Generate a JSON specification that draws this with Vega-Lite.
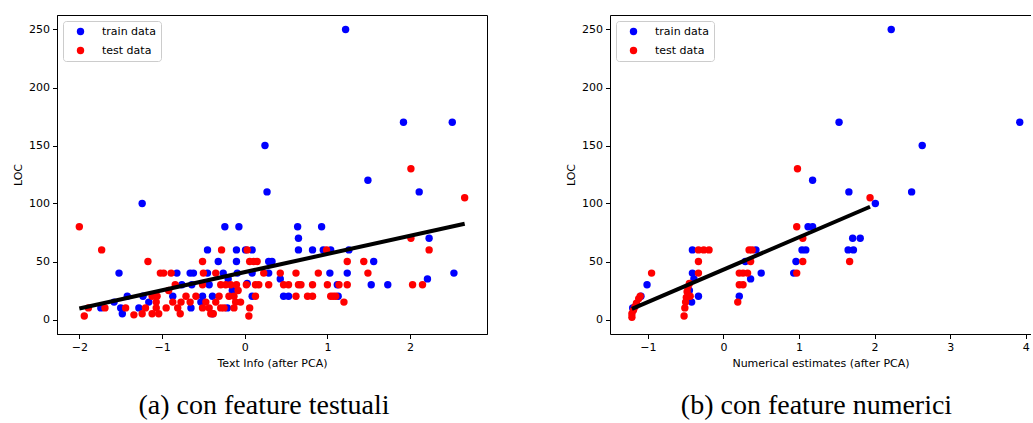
{
  "$schema": "https://vega.github.io/schema/vega-lite/v6.json",
  "background": "white",
  "padding": {"left": 12, "top": 14, "right": 0, "bottom": 0},
  "config": {
    "view": {"stroke": "black", "strokeWidth": 1},
    "axis": {"labelFont": "DejaVu Sans", "labelFontSize": 11, "labelColor": "black", "titleFont": "DejaVu Sans", "titleFontSize": 11, "titleFontWeight": "normal", "titleColor": "black", "tickColor": "black", "tickSize": 4.5, "domainColor": "black", "grid": false, "labelPadding": 3, "titlePadding": 5, "labelFlush": false, "labelOverlap": false, "format": "d"},
    "legend": {"orient": "top-left", "offset": 6, "padding": 5, "strokeColor": "#cccccc", "fillColor": "rgba(255,255,255,0.8)", "cornerRadius": 3, "symbolSize": 55, "symbolType": "circle", "symbolStrokeWidth": 0, "labelFont": "DejaVu Sans", "labelFontSize": 11, "labelColor": "black", "symbolOffset": 7, "labelOffset": 16, "rowPadding": 7},
    "title": {"font": "Liberation Serif", "fontSize": 28, "fontWeight": "normal", "color": "black", "orient": "bottom", "anchor": "middle", "frame": "group", "offset": 23, "dx": -8}
  },
  "datasets": {
    "left": [
      {"x": 1.22, "y": 250, "s": "train data"}, {"x": 1.92, "y": 170, "s": "train data"}, {"x": 2.51, "y": 170, "s": "train data"}, {"x": 0.245, "y": 150, "s": "train data"}, {"x": 1.49, "y": 120, "s": "train data"}, {"x": 0.27, "y": 110, "s": "train data"}, {"x": 2.11, "y": 110, "s": "train data"}, {"x": -1.24, "y": 100, "s": "train data"},
      {"x": -0.24, "y": 80, "s": "train data"}, {"x": -0.07, "y": 80, "s": "train data"}, {"x": 0.64, "y": 80, "s": "train data"}, {"x": 0.93, "y": 80, "s": "train data"},
      {"x": 0.65, "y": 70, "s": "train data"}, {"x": 2.23, "y": 70, "s": "train data"},
      {"x": -0.45, "y": 60, "s": "train data"}, {"x": -0.10, "y": 60, "s": "train data"}, {"x": 0.01, "y": 60, "s": "train data"}, {"x": 0.09, "y": 60, "s": "train data"}, {"x": 0.65, "y": 60, "s": "train data"}, {"x": 0.82, "y": 60, "s": "train data"}, {"x": 0.95, "y": 60, "s": "train data"}, {"x": 1.04, "y": 60, "s": "train data"}, {"x": 1.26, "y": 60, "s": "train data"},
      {"x": -0.32, "y": 50, "s": "train data"}, {"x": -0.10, "y": 50, "s": "train data"}, {"x": 0.29, "y": 50, "s": "train data"}, {"x": 0.33, "y": 50, "s": "train data"}, {"x": 1.56, "y": 50, "s": "train data"},
      {"x": -1.52, "y": 40, "s": "train data"}, {"x": -0.82, "y": 40, "s": "train data"}, {"x": -0.66, "y": 40, "s": "train data"}, {"x": -0.62, "y": 40, "s": "train data"}, {"x": -0.45, "y": 40, "s": "train data"}, {"x": -0.26, "y": 40, "s": "train data"}, {"x": -0.09, "y": 40, "s": "train data"}, {"x": 0.09, "y": 40, "s": "train data"}, {"x": 0.29, "y": 40, "s": "train data"}, {"x": 1.03, "y": 40, "s": "train data"}, {"x": 1.24, "y": 40, "s": "train data"}, {"x": 2.53, "y": 40, "s": "train data"},
      {"x": 0.43, "y": 35, "s": "train data"}, {"x": 2.21, "y": 35, "s": "train data"}, {"x": -0.20, "y": 35, "s": "train data"},
      {"x": -0.76, "y": 30, "s": "train data"}, {"x": -0.64, "y": 30, "s": "train data"}, {"x": -0.43, "y": 30, "s": "train data"}, {"x": 0.03, "y": 31, "s": "train data"}, {"x": 1.12, "y": 30, "s": "train data"}, {"x": 1.53, "y": 30, "s": "train data"}, {"x": 1.73, "y": 30, "s": "train data"},
      {"x": -0.15, "y": 25, "s": "train data"},
      {"x": -1.42, "y": 20, "s": "train data"}, {"x": -1.23, "y": 20, "s": "train data"}, {"x": -0.87, "y": 20, "s": "train data"}, {"x": -0.51, "y": 20, "s": "train data"}, {"x": -0.39, "y": 20, "s": "train data"}, {"x": 0.09, "y": 20, "s": "train data"}, {"x": 0.47, "y": 20, "s": "train data"}, {"x": 0.53, "y": 20, "s": "train data"}, {"x": 1.13, "y": 20, "s": "train data"},
      {"x": -1.58, "y": 15, "s": "train data"}, {"x": -1.16, "y": 15, "s": "train data"}, {"x": -0.53, "y": 15, "s": "train data"},
      {"x": -1.74, "y": 10, "s": "train data"}, {"x": -1.50, "y": 10, "s": "train data"}, {"x": -1.28, "y": 10, "s": "train data"}, {"x": -0.65, "y": 10, "s": "train data"}, {"x": -0.21, "y": 10, "s": "train data"},
      {"x": -1.48, "y": 5, "s": "train data"}, {"x": -0.39, "y": 5, "s": "train data"},
      {"x": 2.01, "y": 130, "s": "test data"}, {"x": 2.66, "y": 105, "s": "test data"}, {"x": -2.0, "y": 80, "s": "test data"}, {"x": 2.01, "y": 70, "s": "test data"},
      {"x": -1.73, "y": 60, "s": "test data"}, {"x": -0.28, "y": 60, "s": "test data"}, {"x": 0.03, "y": 60, "s": "test data"}, {"x": 0.99, "y": 60, "s": "test data"}, {"x": 2.23, "y": 60, "s": "test data"},
      {"x": -1.17, "y": 50, "s": "test data"}, {"x": -0.51, "y": 50, "s": "test data"}, {"x": 0.06, "y": 50, "s": "test data"}, {"x": 0.11, "y": 50, "s": "test data"}, {"x": 0.15, "y": 50, "s": "test data"}, {"x": 1.24, "y": 50, "s": "test data"}, {"x": 1.44, "y": 50, "s": "test data"},
      {"x": -1.02, "y": 40, "s": "test data"}, {"x": -0.98, "y": 40, "s": "test data"}, {"x": -0.89, "y": 40, "s": "test data"}, {"x": -0.50, "y": 40, "s": "test data"}, {"x": -0.35, "y": 40, "s": "test data"}, {"x": 0.23, "y": 40, "s": "test data"}, {"x": 0.43, "y": 40, "s": "test data"}, {"x": 0.62, "y": 40, "s": "test data"}, {"x": 0.89, "y": 40, "s": "test data"}, {"x": 1.49, "y": 40, "s": "test data"},
      {"x": -0.84, "y": 30, "s": "test data"}, {"x": -0.51, "y": 30, "s": "test data"}, {"x": -0.29, "y": 30, "s": "test data"}, {"x": -0.23, "y": 30, "s": "test data"}, {"x": -0.17, "y": 30, "s": "test data"}, {"x": -0.10, "y": 30, "s": "test data"}, {"x": 0.02, "y": 30, "s": "test data"}, {"x": 0.13, "y": 30, "s": "test data"}, {"x": 0.17, "y": 30, "s": "test data"}, {"x": 0.29, "y": 30, "s": "test data"}, {"x": 0.47, "y": 30, "s": "test data"}, {"x": 0.53, "y": 30, "s": "test data"}, {"x": 0.65, "y": 30, "s": "test data"}, {"x": 0.68, "y": 30, "s": "test data"}, {"x": 0.82, "y": 30, "s": "test data"}, {"x": 1.0, "y": 30, "s": "test data"}, {"x": 1.14, "y": 30, "s": "test data"}, {"x": 1.24, "y": 30, "s": "test data"}, {"x": 2.03, "y": 30, "s": "test data"}, {"x": 2.15, "y": 30, "s": "test data"},
      {"x": -0.92, "y": 25, "s": "test data"}, {"x": -0.08, "y": 25, "s": "test data"},
      {"x": -1.12, "y": 20, "s": "test data"}, {"x": -1.06, "y": 20, "s": "test data"}, {"x": -0.71, "y": 20, "s": "test data"}, {"x": -0.59, "y": 20, "s": "test data"}, {"x": -0.31, "y": 20, "s": "test data"}, {"x": -0.19, "y": 20, "s": "test data"}, {"x": -0.13, "y": 20, "s": "test data"}, {"x": 0.13, "y": 20, "s": "test data"}, {"x": 0.62, "y": 20, "s": "test data"}, {"x": 0.76, "y": 20, "s": "test data"}, {"x": 0.82, "y": 20, "s": "test data"}, {"x": 1.04, "y": 20, "s": "test data"}, {"x": 1.07, "y": 20, "s": "test data"}, {"x": 1.10, "y": 20, "s": "test data"},
      {"x": -1.07, "y": 15, "s": "test data"}, {"x": -0.87, "y": 15, "s": "test data"}, {"x": -0.77, "y": 15, "s": "test data"}, {"x": -0.66, "y": 15, "s": "test data"}, {"x": -0.47, "y": 15, "s": "test data"}, {"x": -0.35, "y": 15, "s": "test data"}, {"x": -0.11, "y": 15, "s": "test data"}, {"x": -0.05, "y": 15, "s": "test data"}, {"x": 1.20, "y": 15, "s": "test data"},
      {"x": -1.89, "y": 10, "s": "test data"}, {"x": -1.69, "y": 10, "s": "test data"}, {"x": -1.44, "y": 10, "s": "test data"}, {"x": -1.20, "y": 10, "s": "test data"}, {"x": -1.07, "y": 10, "s": "test data"}, {"x": -0.95, "y": 10, "s": "test data"}, {"x": -0.81, "y": 10, "s": "test data"}, {"x": -0.51, "y": 10, "s": "test data"}, {"x": -0.43, "y": 10, "s": "test data"}, {"x": -0.29, "y": 10, "s": "test data"}, {"x": -0.25, "y": 10, "s": "test data"}, {"x": -0.13, "y": 10, "s": "test data"}, {"x": 0.06, "y": 10, "s": "test data"},
      {"x": -1.34, "y": 4, "s": "test data"}, {"x": -1.24, "y": 5, "s": "test data"}, {"x": -1.12, "y": 5, "s": "test data"}, {"x": -1.04, "y": 5, "s": "test data"}, {"x": -0.78, "y": 5, "s": "test data"}, {"x": -0.41, "y": 5, "s": "test data"}, {"x": -0.38, "y": 5, "s": "test data"},
      {"x": -1.94, "y": 3, "s": "test data"}, {"x": 0.05, "y": 3, "s": "test data"}
    ],
    "leftLine": [{"x": -2.0, "y": 9.5}, {"x": 2.66, "y": 82.5}],
    "right": [
      {"x": 2.22, "y": 250, "s": "train data"}, {"x": 1.53, "y": 170, "s": "train data"}, {"x": 3.92, "y": 170, "s": "train data"}, {"x": 2.63, "y": 150, "s": "train data"}, {"x": 1.18, "y": 120, "s": "train data"}, {"x": 1.66, "y": 110, "s": "train data"}, {"x": 2.49, "y": 110, "s": "train data"}, {"x": 2.01, "y": 100, "s": "train data"},
      {"x": 1.12, "y": 80, "s": "train data"}, {"x": 1.18, "y": 80, "s": "train data"}, {"x": 1.71, "y": 70, "s": "train data"}, {"x": 1.81, "y": 70, "s": "train data"},
      {"x": 1.04, "y": 60, "s": "train data"}, {"x": 1.09, "y": 60, "s": "train data"}, {"x": 1.65, "y": 60, "s": "train data"}, {"x": 1.72, "y": 60, "s": "train data"},
      {"x": 0.96, "y": 50, "s": "train data"}, {"x": 0.93, "y": 40, "s": "train data"},
      {"x": 0.43, "y": 60, "s": "train data"}, {"x": 0.29, "y": 50, "s": "train data"}, {"x": 0.50, "y": 40, "s": "train data"}, {"x": 0.36, "y": 35, "s": "train data"}, {"x": 0.21, "y": 20, "s": "train data"},
      {"x": -0.41, "y": 60, "s": "train data"}, {"x": -0.41, "y": 40, "s": "train data"}, {"x": -0.39, "y": 35, "s": "train data"}, {"x": -0.33, "y": 20, "s": "train data"}, {"x": -0.42, "y": 15, "s": "train data"}, {"x": -0.45, "y": 25, "s": "train data"},
      {"x": -1.01, "y": 30, "s": "train data"}, {"x": -1.09, "y": 20, "s": "train data"}, {"x": -1.20, "y": 10, "s": "train data"},
      {"x": 0.98, "y": 130, "s": "test data"}, {"x": 1.94, "y": 105, "s": "test data"}, {"x": 0.97, "y": 80, "s": "test data"}, {"x": 1.05, "y": 70, "s": "test data"}, {"x": 1.05, "y": 50, "s": "test data"}, {"x": 1.67, "y": 50, "s": "test data"}, {"x": 0.97, "y": 40, "s": "test data"},
      {"x": 0.34, "y": 60, "s": "test data"}, {"x": 0.38, "y": 60, "s": "test data"}, {"x": 0.36, "y": 50, "s": "test data"}, {"x": 0.21, "y": 40, "s": "test data"}, {"x": 0.26, "y": 40, "s": "test data"}, {"x": 0.32, "y": 40, "s": "test data"}, {"x": 0.21, "y": 30, "s": "test data"}, {"x": 0.26, "y": 30, "s": "test data"}, {"x": 0.19, "y": 15, "s": "test data"},
      {"x": -0.33, "y": 60, "s": "test data"}, {"x": -0.26, "y": 60, "s": "test data"}, {"x": -0.19, "y": 60, "s": "test data"}, {"x": -0.33, "y": 50, "s": "test data"}, {"x": -0.33, "y": 40, "s": "test data"},
      {"x": -0.52, "y": 3, "s": "test data"}, {"x": -0.51, "y": 10, "s": "test data"}, {"x": -0.50, "y": 15, "s": "test data"}, {"x": -0.49, "y": 19, "s": "test data"}, {"x": -0.48, "y": 24, "s": "test data"}, {"x": -0.47, "y": 28, "s": "test data"}, {"x": -0.45, "y": 31, "s": "test data"}, {"x": -0.44, "y": 20, "s": "test data"},
      {"x": -0.95, "y": 40, "s": "test data"},
      {"x": -1.21, "y": 2, "s": "test data"}, {"x": -1.21, "y": 5, "s": "test data"}, {"x": -1.19, "y": 8, "s": "test data"}, {"x": -1.17, "y": 11, "s": "test data"}, {"x": -1.15, "y": 14, "s": "test data"}, {"x": -1.12, "y": 18, "s": "test data"}, {"x": -1.10, "y": 20, "s": "test data"}
    ],
    "rightLine": [{"x": -1.21, "y": 9.2}, {"x": 1.94, "y": 97.2}]
  },
  "spacing": 77,
  "resolve": {"scale": {"color": "independent", "x": "independent", "y": "independent"}, "legend": {"color": "independent"}},
  "hconcat": [
    {
      "width": 430,
      "height": 319,
      "title": {"text": "(a) con feature testuali"},
      "layer": [
        {
          "data": {"name": "left"},
          "mark": {"type": "point", "filled": true, "size": 55, "opacity": 1},
          "encoding": {
            "x": {"field": "x", "type": "quantitative", "scale": {"domain": [-2.27, 2.93], "nice": false, "zero": false}, "axis": {"values": [-2, -1, 0, 1, 2], "title": "Text Info (after PCA)"}},
            "y": {"field": "y", "type": "quantitative", "scale": {"domain": [-12.5, 262.5], "nice": false, "zero": false}, "axis": {"values": [0, 50, 100, 150, 200, 250], "title": "LOC"}},
            "color": {"field": "s", "type": "nominal", "scale": {"domain": ["train data", "test data"], "range": ["#0000ff", "#ff0000"]}, "legend": {"title": null}}
          }
        },
        {
          "data": {"name": "leftLine"},
          "mark": {"type": "line", "color": "black", "strokeWidth": 4},
          "encoding": {
            "x": {"field": "x", "type": "quantitative"},
            "y": {"field": "y", "type": "quantitative"}
          }
        }
      ]
    },
    {
      "width": 421,
      "height": 319,
      "view": {"stroke": null},
      "title": {"text": "(b) con feature numerici", "dx": -4},
      "resolve": {"axis": {"x": "independent"}},
      "layer": [
        {
          "data": {"name": "right"},
          "mark": {"type": "point", "filled": true, "size": 55, "opacity": 1},
          "encoding": {
            "x": {"field": "x", "type": "quantitative", "scale": {"domain": [-1.5, 4.069], "nice": false, "zero": false}, "axis": {"values": [-1, 0, 1, 2, 3, 4], "title": "Numerical estimates (after PCA)"}},
            "y": {"field": "y", "type": "quantitative", "scale": {"domain": [-12.5, 262.5], "nice": false, "zero": false}, "axis": {"values": [0, 50, 100, 150, 200, 250], "title": "LOC"}},
            "color": {"field": "s", "type": "nominal", "scale": {"domain": ["train data", "test data"], "range": ["#0000ff", "#ff0000"]}, "legend": {"title": null}}
          }
        },
        {
          "data": {"name": "rightLine"},
          "mark": {"type": "line", "color": "black", "strokeWidth": 4},
          "encoding": {
            "x": {"field": "x", "type": "quantitative", "axis": {"orient": "top", "labels": false, "ticks": false, "title": null, "domain": true}},
            "y": {"field": "y", "type": "quantitative"}
          }
        }
      ]
    }
  ]
}
